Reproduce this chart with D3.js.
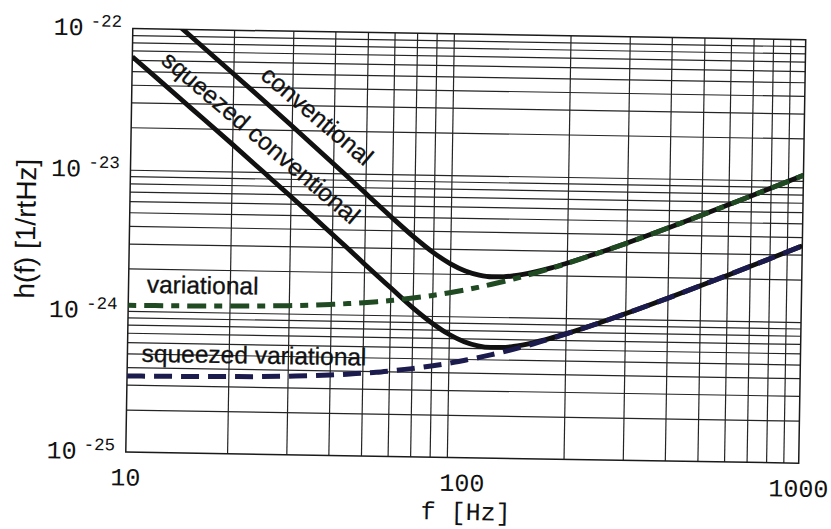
<!DOCTYPE html>
<html>
<head>
<meta charset="utf-8">
<script src="https://cdn.jsdelivr.net/npm/d3@7"></script>
<style>
  html, body { margin: 0; padding: 0; background: #ffffff; }
  svg { display: block; }
</style>
</head>
<body>
<svg id="chart" width="831" height="529"></svg>
<script>
// Strain sensitivity h(f) of four interferometer readout schemes (units of 1e-24 /rtHz)
const unit = 1e-24;
const frequencies = [10, 12, 15, 20, 25, 30, 35, 40, 45, 50, 55, 60, 70, 80, 90, 100, 110, 120, 130, 140, 160, 180, 200, 250, 300, 400, 500, 600, 700, 800, 1000];
const conventional = [199.8, 138.4, 88.3, 49.2, 31.2, 21.4, 15.5, 11.7, 9.12, 7.29, 5.95, 4.95, 3.61, 2.82, 2.36, 2.10, 1.97, 1.92, 1.93, 1.97, 2.10, 2.26, 2.45, 2.94, 3.45, 4.49, 5.56, 6.63, 7.71, 8.79, 10.95];
const squeezedConventional = [63.2, 43.8, 27.9, 15.6, 9.86, 6.77, 4.91, 3.70, 2.89, 2.30, 1.88, 1.57, 1.14, 0.892, 0.745, 0.663, 0.622, 0.608, 0.610, 0.622, 0.663, 0.716, 0.774, 0.929, 1.090, 1.421, 1.758, 2.097, 2.437, 2.779, 3.464];
const variational = [1.095, 1.098, 1.102, 1.112, 1.124, 1.138, 1.155, 1.174, 1.195, 1.219, 1.244, 1.271, 1.331, 1.396, 1.467, 1.542, 1.620, 1.703, 1.788, 1.875, 2.057, 2.244, 2.437, 2.935, 3.447, 4.494, 5.558, 6.630, 7.708, 8.788, 10.95];
const squeezedVariational = [0.346, 0.347, 0.349, 0.352, 0.355, 0.360, 0.365, 0.371, 0.378, 0.386, 0.393, 0.402, 0.421, 0.442, 0.464, 0.488, 0.512, 0.538, 0.565, 0.593, 0.650, 0.710, 0.771, 0.928, 1.090, 1.421, 1.758, 2.097, 2.437, 2.779, 3.464];

// Axis ticks
const xTickValues = [10, 100, 1000];
const xTickLabels = ["10", "100", "1000"];
const yTickValues = [1e-25, 1e-24, 1e-23, 1e-22];
const yTickExponents = ["-25", "-24", "-23", "-22"];

const xTitle = "f [Hz]";
const yTitle = "h(f) [1/rtHz]";

// ---- layout ----
const plotLeft = 129.25, plotRight = 802.25, plotTop = 34.15, plotBottom = 457.65;
const midX = (plotLeft + plotRight) / 2, midY = (plotTop + plotBottom) / 2;
const tilt = 0.95;

const svg = d3.select("#chart");
const root = svg.append("g").attr("transform", `rotate(${tilt},${midX},${midY})`);

const x = d3.scaleLog().domain([10, 1000]).range([plotLeft, plotRight]);
const y = d3.scaleLog().domain([1e-25, 1e-22]).range([plotBottom, plotTop]);

// log grid: 2..9 in each decade
const gridX = [];
for (let e = 1; e < 3; e++) for (let k = 2; k <= 9; k++) gridX.push(k * Math.pow(10, e));
const gridY = [];
for (let e = -25; e < -22; e++) for (let k = 1; k <= 9; k++) if (!(e === -25 && k === 1)) gridY.push(k * Math.pow(10, e));

const gridColor = "#242424";
const gx = root.append("g")
  .attr("transform", `translate(0,${plotBottom})`)
  .call(d3.axisBottom(x).tickValues(gridX).tickSize(-(plotBottom - plotTop)).tickFormat(""));
const gy = root.append("g")
  .attr("transform", `translate(${plotLeft},0)`)
  .call(d3.axisLeft(y).tickValues(gridY).tickSize(-(plotRight - plotLeft)).tickFormat(""));
[gx, gy].forEach(g => {
  g.select(".domain").remove();
  g.selectAll(".tick line").attr("stroke", gridColor).attr("stroke-width", 1.2);
});

root.append("rect")
  .attr("x", plotLeft).attr("y", plotTop)
  .attr("width", plotRight - plotLeft).attr("height", plotBottom - plotTop)
  .attr("fill", "none").attr("stroke", "#1a1a1a").attr("stroke-width", 1.5);

// ---- curves ----
root.append("clipPath").attr("id", "plotClip")
  .append("rect").attr("x", plotLeft).attr("y", plotTop)
  .attr("width", plotRight - plotLeft).attr("height", plotBottom - plotTop);

const curves = root.append("g").attr("clip-path", "url(#plotClip)");

const line = d3.line()
  .x(d => x(d[0]))
  .y(d => y(d[1] * unit))
  .curve(d3.curveMonotoneX);

const pairs = vals => frequencies.map((f, i) => [f, vals[i]]);

curves.append("path").datum(pairs(conventional))
  .attr("d", line).attr("fill", "none")
  .attr("stroke", "#111").attr("stroke-width", 4.8);
curves.append("path").datum(pairs(squeezedConventional))
  .attr("d", line).attr("fill", "none")
  .attr("stroke", "#111").attr("stroke-width", 4.8);
curves.append("path").datum(pairs(variational))
  .attr("d", line).attr("fill", "none")
  .attr("stroke", "#1f4a22").attr("stroke-width", 5)
  .attr("stroke-dasharray", "8,8,19,8");
curves.append("path").datum(pairs(squeezedVariational))
  .attr("d", line).attr("fill", "none")
  .attr("stroke", "#1c1b4e").attr("stroke-width", 5)
  .attr("stroke-dasharray", "18,9");

// ---- curve labels ----
const labelFont = "'Liberation Sans', Arial, Helvetica, sans-serif";
const curveLabels = [
  { text: "conventional", f: 23.9, h: 4.66e-23, angle: 39.5 },
  { text: "squeezed conventional", f: 12.1, h: 5.79e-23, angle: 39.5 },
  { text: "variational", f: 11.33, h: 1.35e-24, angle: 0 },
  { text: "squeezed variational", f: 11.03, h: 4.38e-25, angle: 0 }
];
root.append("g").selectAll("text").data(curveLabels).join("text")
  .attr("transform", d => `translate(${x(d.f)},${y(d.h)}) rotate(${d.angle})`)
  .attr("font-family", labelFont)
  .attr("font-size", 24.5)
  .attr("fill", "#111")
  .attr("stroke", "#111").attr("stroke-width", 0.3)
  .text(d => d.text);

// ---- tick labels ----
const monoFont = "'Liberation Mono', 'DejaVu Sans Mono', monospace";
root.append("g").selectAll("text").data(xTickValues).join("text")
  .attr("x", d => x(d))
  .attr("y", plotBottom + 33.5)
  .attr("text-anchor", "middle")
  .attr("font-family", monoFont)
  .attr("font-size", 25)
  .attr("fill", "#111")
  .text((d, i) => xTickLabels[i]);

const yLab = root.append("g").selectAll("text").data(yTickValues).join("text")
  .attr("x", 50)
  .attr("y", d => y(d) + 7.5)
  .attr("font-family", monoFont)
  .attr("font-size", 25)
  .attr("fill", "#111");
yLab.append("tspan").text("10");
yLab.append("tspan")
  .attr("dx", 7).attr("dy", -9)
  .attr("font-size", 17.5)
  .text((d, i) => yTickExponents[i]);

// ---- axis titles ----
root.append("text")
  .attr("x", 470).attr("y", 520)
  .attr("text-anchor", "middle")
  .attr("font-family", monoFont)
  .attr("font-size", 25)
  .attr("fill", "#111")
  .text(xTitle);

root.append("text")
  .attr("transform", `translate(35,236) rotate(-90)`)
  .attr("text-anchor", "middle")
  .attr("font-family", labelFont)
  .attr("font-size", 28)
  .attr("fill", "#111")
  .text(yTitle);
</script>
</body>
</html>
